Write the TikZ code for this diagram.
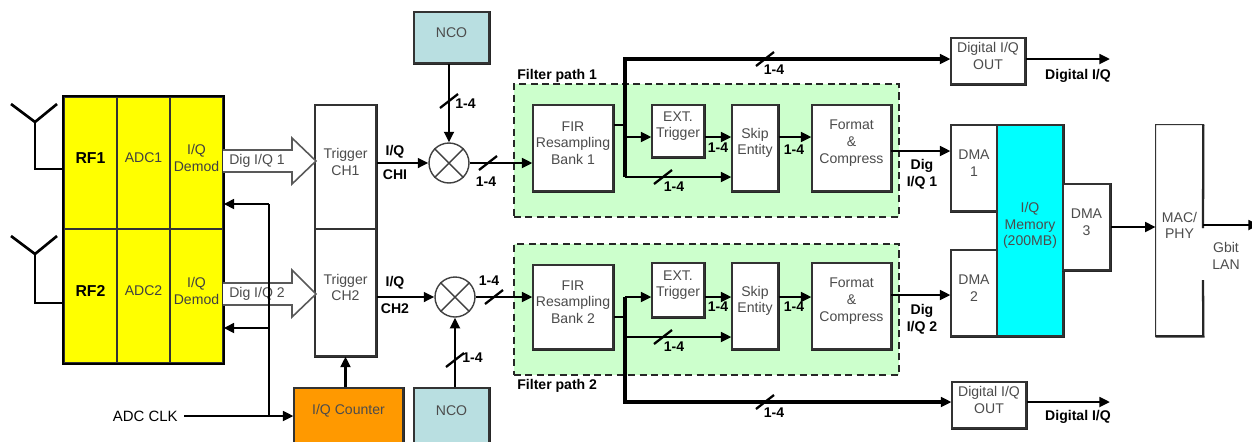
\documentclass[tikz,border=0pt]{standalone}
\usepackage{fontspec}
\setmainfont{Liberation Sans}
\usetikzlibrary{arrows.meta,fit,calc}
\newcommand\bxf{\fontsize{8}{9.6}\selectfont}
\newcommand\lbf{\bfseries\fontsize{8}{9.6}\selectfont}
\definecolor{ylw}{HTML}{FFFF00}
\definecolor{org}{HTML}{FF9900}
\definecolor{ncoc}{HTML}{B9DFE1}
\definecolor{cyanm}{HTML}{00FFFF}
\definecolor{grn}{HTML}{CCFFCC}
\begin{document}
\begin{tikzpicture}[x=0.02cm,y=-0.02cm,
  >={Triangle[length=6pt,width=5.5pt]},
  box/.style={inner sep=0pt, draw=black!80, line width=0.6pt, fill=white, align=center, text=black!70, font=\bxf,
     append after command={\pgfextra{\draw[line width=1.3pt,black!85] (\tikzlastnode.north east) -- (\tikzlastnode.south east) -- (\tikzlastnode.south west);}}},
  cell/.style={inner sep=0pt, draw=black!80, line width=0.7pt, fill=ylw, align=center, text=black!75, font=\bxf},
  lbl/.style={inner sep=0pt, font=\lbf, align=center},
  conn/.style={line width=1.5pt, ->},
  wire/.style={line width=1.5pt},
  mixer/.style={circle, draw=black!75, fill=white, line width=0.8pt, minimum size=0.8cm, inner sep=0pt},
  fpath/.style={inner sep=0pt, draw=black!85, fill=grn, dash pattern=on 4pt off 2.5pt, line width=1.3pt},
  hollow/.style={draw=black!65, fill=white, line width=0.9pt, line join=miter},
  slash/.pic={\draw[line width=1.3pt] (-9,7) -- (9,-7);}
]
\useasboundingbox (0,0) rectangle (1252,441);
\clip (0,0) rectangle (1252,441);

% ---------- RF / ADC / demod ----------
\node[cell, fit={(64,97) (117,229)}, font=\bfseries\fontsize{9}{10}\selectfont, text=black] (rf1) {RF1};
\node[cell, fit={(117,97) (170,229)}] (adc1) {ADC1};
\node[cell, fit={(170,97) (223,229)}] (dem1) {I/Q\\Demod};
\node[cell, fit={(64,229) (117,363)}, font=\bfseries\fontsize{9}{10}\selectfont, text=black] (rf2) {RF2};
\node[cell, fit={(117,229) (170,363)}] (adc2) {ADC2};
\node[cell, fit={(170,229) (223,363)}] (dem2) {I/Q\\Demod};
\draw[line width=1.2pt] (rf1.north west) rectangle (dem2.south east);

% antennas
\coordinate (ant1) at (35,122);
\draw[wire, line join=miter] (11,104) -- (ant1) -- (57,104);
\draw[wire] (ant1) |- ($(rf1.west)+(0,6)$);
\coordinate (ant2) at (35,254);
\draw[wire, line join=miter] (11,236) -- (ant2) -- (57,236);
\draw[wire] (ant2) |- ($(rf2.west)+(0,7)$);

% trigger boxes
\node[box, fit={(315,105) (376,229)}] (trig1) {Trigger\\CH1};
\node[box, fit={(315,229) (376,356)}] (trig2) {Trigger\\CH2};

% hollow arrows
\draw[hollow] (223,150) -- (292,150) -- (292,138) -- (316,161) -- (292,184) -- (292,172) -- (223,172);
\node[inner sep=0pt, text=black!70, font=\bxf] (dq1a) at (257,161) {Dig I/Q 1};
\draw[hollow] (223,283) -- (292,283) -- (292,270) -- (316,294) -- (292,317) -- (292,305) -- (223,305);
\node[inner sep=0pt, text=black!70, font=\bxf] (dq2a) at (257,294) {Dig I/Q 2};

% clock
\node[box, fill=org, fit={(294,388) (403,443)}] (cnt) {I/Q Counter};
\node[inner sep=0pt, font=\fontsize{8.5}{10}\selectfont, anchor=east] (adcclk) at (178,416) {ADC CLK};
\coordinate (k1) at (269,204);
\coordinate (k2) at (269,328);
\coordinate (k3) at (269,416);
\draw[wire] (k1) -- (k3);
\draw[conn] (k1) -- (k1 -| dem1.east);
\draw[conn] (k2) -- (k2 -| dem2.east);
\draw[conn] (k3 -| adcclk.east) ++(6,0) -- (k3 -| cnt.west);
\draw[conn] (cnt.north -| trig2.south) -- (trig2.south);

% NCO and mixers
\node[box, fill=ncoc, fit={(414,12) (489,63)}] (nco1) {NCO};
\node[box, fill=ncoc, fit={(414,388) (489,443)}] (nco2) {NCO};
\node[mixer] (mix1) at (449,163) {};
\draw[black!75, line width=0.8pt] (mix1.north east) -- (mix1.south west) (mix1.north west) -- (mix1.south east);
\node[mixer] (mix2) at (455,297) {};
\draw[black!75, line width=0.8pt] (mix2.north east) -- (mix2.south west) (mix2.north west) -- (mix2.south east);

\draw[conn] (mix1.west -| trig1.east) -- (mix1.west);
\node[lbl] (iq1) at (395,152) {I/Q};
\node[lbl] (ch1) at (395,175) {CHI};
\draw[conn] (mix2.west -| trig2.east) -- (mix2.west);
\node[lbl] (iq2) at (395,283) {I/Q};
\node[lbl] (ch2) at (395,309) {CH2};

\draw[conn] (mix1.north |- nco1.south) -- (mix1.north);
\pic at (449,101) {slash};
\node[lbl, anchor=west] (n1) at (455,104) {1-4};
\draw[conn] (mix2.south |- nco2.north) -- (mix2.south);
\pic at (455,360) {slash};
\node[lbl, anchor=west] (n2) at (462,358) {1-4};

% filter paths
\node[fpath, fit={(514,84) (899,217)}] (fp1) {};
\node[lbl, anchor=west] (fp1l) at (517,76) {Filter path 1};
\node[fpath, fit={(514,244) (899,375)}] (fp2) {};
\node[lbl, anchor=west] (fp2l) at (517,386) {Filter path 2};

\node[box, fit={(533,105) (613,191)}] (fir1) {FIR\\Resampling\\Bank 1};
\node[box, fit={(652,105) (704,157)}] (ext1) {EXT.\\Trigger};
\node[box, fit={(732,105) (778,191)}] (skip1) {Skip\\Entity};
\node[box, fit={(812,105) (891,191)}] (fmt1) {Format\\\&\\Compress};

\node[box, fit={(533,265) (613,349)}] (fir2) {FIR\\Resampling\\Bank 2};
\node[box, fit={(652,263) (704,317)}] (ext2) {EXT.\\Trigger};
\node[box, fit={(732,263) (778,349)}] (skip2) {Skip\\Entity};
\node[box, fit={(812,263) (891,349)}] (fmt2) {Format\\\&\\Compress};

\draw[conn] (mix1.east) -- (mix1.east -| fir1.west);
\pic at (488,163) {slash};
\node[lbl] (m1) at (486,182) {1-4};
\draw[conn] (mix2.east) -- (mix2.east -| fir2.west);
\pic at (494,297) {slash};
\node[lbl] (m2) at (489,281) {1-4};

% right-hand blocks
\node[box, fit={(951,38) (1025,84)}] (dout1) {Digital I/Q\\OUT};
\node[box, fit={(952,382) (1026,428)}] (dout2) {Digital I/Q\\OUT};
\node[box, fit={(951,125) (997,211)}] (dma1) {DMA\\1};
\node[box, fit={(951,250) (997,336)}] (dma2) {DMA\\2};
\node[box, fill=cyanm, fit={(997,125) (1063,336)}] (mem) {I/Q\\Memory\\(200MB)};
\node[box, fit={(1063,184) (1110,270)}] (dma3) {DMA\\3};
\node[inner sep=0pt, fill=white, align=center, text=black!70, font=\bxf, fit={(1156,125) (1203,336)}] (mac) {MAC/\\PHY};
\draw[line width=0.6pt, black!80] (1203,228) -- (mac.north east) -- (mac.north west) -- (mac.south west) -- (mac.south east) -- (1203,280);
\draw[line width=1.3pt, black!85] (mac.north east) -- (1203,228) (1203,280) -- (mac.south east) -- (mac.south west);
\node[inner sep=0pt, align=center, text=black!70, font=\bxf] (gbit) at (1226,256) {Gbit\\LAN};

% filter path 1 internals
\coordinate (b1) at (625,125);
\coordinate (b1top) at (625,59);
\coordinate (b1mid) at (625,137);
\coordinate (b1lo) at (625,177);
\draw[wire] (b1 -| fir1.east) -- (b1);
\draw[conn, line width=1.9pt] (b1lo) -- (b1top) -- (b1top -| dout1.west);
\pic at (765,59) {slash};
\node[lbl] (t1) at (774,70) {1-4};
\draw[conn] (b1mid) -- (b1mid -| ext1.west);
\draw[conn] (b1lo) -- (b1lo -| skip1.west);
\pic at (663,177) {slash};
\node[lbl] (u1) at (674,187) {1-4};
\draw[conn] (b1mid -| ext1.east) -- (b1mid -| skip1.west);
\node[lbl] (e1) at (718,148) {1-4};
\draw[conn] (b1mid -| skip1.east) -- (b1mid -| fmt1.west);
\node[lbl] (f1) at (794,150) {1-4};
\coordinate (o1) at (891,151);
\draw[conn] (o1) -- (o1 -| dma1.west);
\node[lbl] (dq1) at (922,174) {Dig\\I/Q 1};

% filter path 2 internals
\coordinate (c2) at (625,317);
\coordinate (c2t) at (625,297);
\coordinate (c2l) at (625,337);
\coordinate (c2b) at (625,402);
\draw[wire] (c2 -| fir2.east) -- (c2);
\draw[conn] (c2t) -- (c2t -| ext2.west);
\draw[conn, line width=1.9pt] (c2t) -- (c2b) -- (c2b -| dout2.west);
\pic at (765,402) {slash};
\node[lbl] (t2) at (774,413) {1-4};
\draw[conn] (c2l) -- (c2l -| skip2.west);
\pic at (663,337) {slash};
\node[lbl] (u2) at (674,347) {1-4};
\draw[conn] (c2t -| ext2.east) -- (c2t -| skip2.west);
\node[lbl] (e2) at (718,307) {1-4};
\draw[conn] (c2t -| skip2.east) -- (c2t -| fmt2.west);
\node[lbl] (f2) at (794,307) {1-4};
\coordinate (o2) at (891,295);
\draw[conn] (o2) -- (o2 -| dma2.west);
\node[lbl] (dq2) at (922,319) {Dig\\I/Q 2};

% outputs
\coordinate (q1) at (1110,59);
\draw[conn] (q1 -| dout1.east) -- (q1);
\node[lbl] (dl1) at (1078,76) {Digital I/Q};
\coordinate (q2) at (1110,402);
\draw[conn] (q2 -| dout2.east) -- (q2);
\node[lbl] (dl2) at (1078,417) {Digital I/Q};
\draw[conn] (dma3.east) -- (dma3.east -| mac.west);
\coordinate (lan) at (1259,225);
\draw[conn] (lan -| mac.east) -- (lan);
\end{tikzpicture}
\end{document}
